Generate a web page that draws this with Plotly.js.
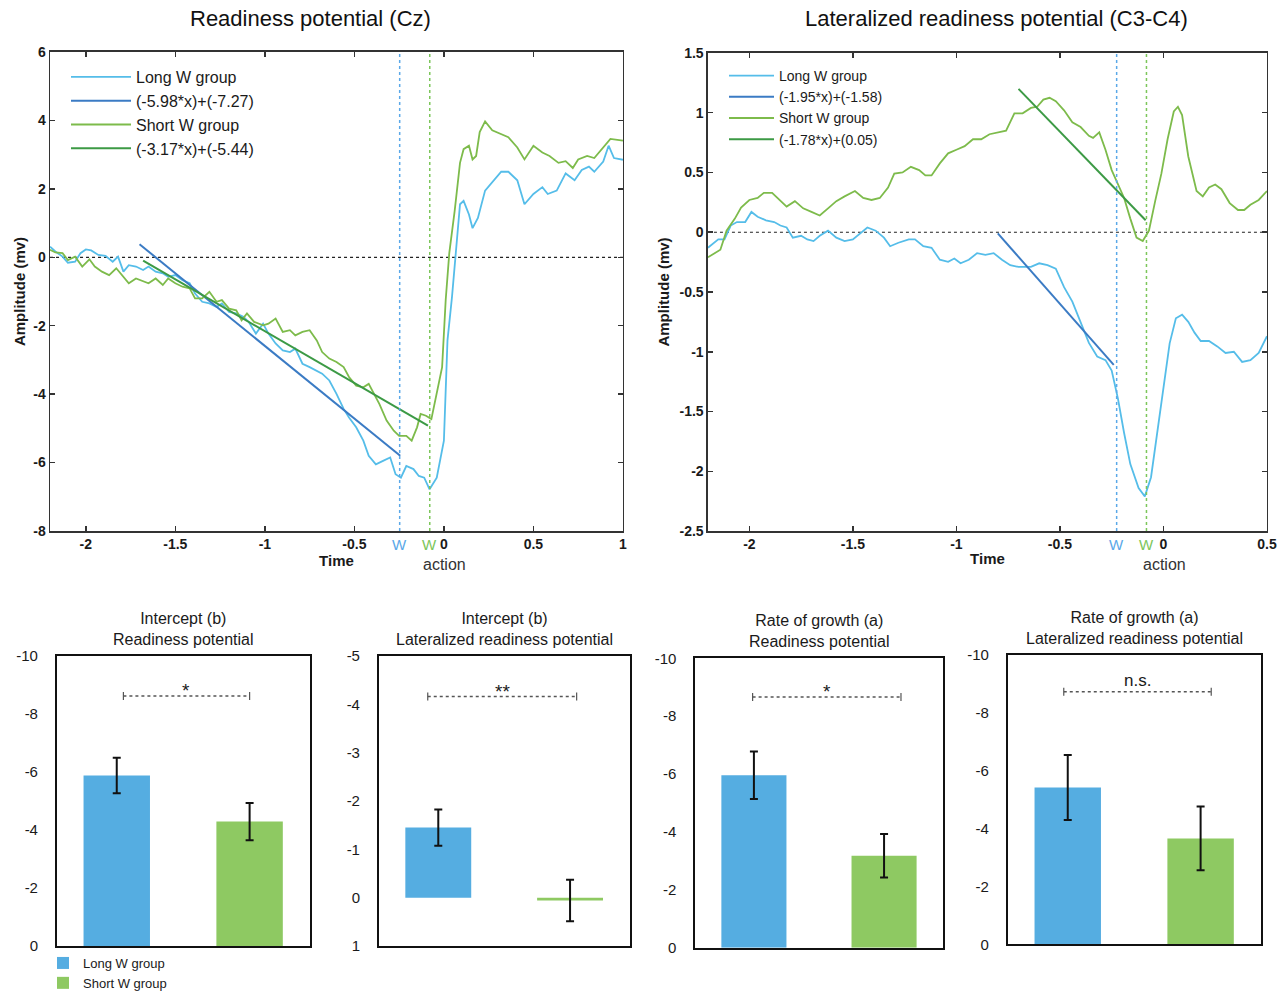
<!DOCTYPE html>
<html><head><meta charset="utf-8">
<script src="https://cdn.plot.ly/plotly-3.0.1.min.js"></script>
<style>html,body{margin:0;padding:0;background:#fff;overflow:hidden}#chart{width:1286px;height:992px}</style>
</head><body><div id="chart"></div>
<script>
// ---------- Readiness potential (Cz) ----------
const rpTimeLong = [-2.2,-2.17,-2.13,-2.1,-2.06,-2.03,-2.0,-1.97,-1.93,-1.89,-1.85,-1.82,-1.79,-1.76,-1.72,-1.68,-1.65,-1.61,-1.57,-1.54,-1.5,-1.46,-1.42,-1.39,-1.35,-1.31,-1.27,-1.24,-1.2,-1.16,-1.12,-1.09,-1.05,-1.01,-0.98,-0.94,-0.9,-0.86,-0.83,-0.79,-0.75,-0.71,-0.68,-0.64,-0.6,-0.56,-0.53,-0.49,-0.45,-0.42,-0.38,-0.34,-0.3,-0.27,-0.24,-0.21,-0.17,-0.14,-0.11,-0.08,-0.04,0.0,0.02,0.045,0.07,0.09,0.11,0.14,0.16,0.19,0.23,0.27,0.32,0.36,0.41,0.45,0.5,0.55,0.58,0.63,0.68,0.73,0.77,0.81,0.84,0.89,0.92,0.95,1.0];
const rpLong = [0.31,0.17,0.02,-0.16,-0.13,0.12,0.23,0.2,0.07,0.04,-0.13,0.02,-0.42,-0.23,-0.27,-0.37,-0.27,-0.42,-0.47,-0.57,-0.52,-0.67,-0.76,-1.06,-1.3,-1.35,-1.45,-1.35,-1.6,-1.64,-1.74,-1.89,-2.23,-1.94,-2.23,-2.52,-2.72,-2.77,-2.67,-3.11,-3.21,-3.31,-3.4,-3.6,-3.99,-4.43,-4.68,-4.97,-5.36,-5.8,-6.05,-5.95,-5.85,-6.34,-6.44,-6.1,-6.19,-6.39,-6.44,-6.78,-6.44,-5.36,-2.43,-1.17,0.34,1.55,1.65,1.25,0.85,1.15,1.95,2.2,2.5,2.5,2.25,1.55,1.85,2.05,1.85,1.95,2.45,2.25,2.55,2.65,2.5,2.8,3.26,2.9,2.85];
const rpTimeShort = [-2.2,-2.17,-2.13,-2.1,-2.06,-2.02,-1.98,-1.95,-1.91,-1.87,-1.83,-1.8,-1.76,-1.72,-1.68,-1.65,-1.61,-1.57,-1.54,-1.5,-1.46,-1.42,-1.39,-1.35,-1.31,-1.27,-1.24,-1.2,-1.16,-1.13,-1.1,-1.06,-1.01,-0.98,-0.94,-0.9,-0.86,-0.83,-0.79,-0.75,-0.71,-0.68,-0.64,-0.6,-0.56,-0.53,-0.49,-0.45,-0.42,-0.4,-0.36,-0.32,-0.28,-0.25,-0.21,-0.18,-0.15,-0.13,-0.1,-0.07,-0.04,-0.01,0.01,0.03,0.06,0.09,0.11,0.14,0.16,0.18,0.2,0.23,0.27,0.32,0.36,0.41,0.45,0.5,0.55,0.59,0.64,0.68,0.72,0.75,0.8,0.84,0.89,0.93,1.0];
const rpShort = [0.22,0.14,0.12,-0.08,0.02,-0.27,-0.06,-0.27,-0.42,-0.52,-0.32,-0.52,-0.76,-0.62,-0.71,-0.76,-0.62,-0.81,-0.62,-0.76,-0.86,-0.91,-1.2,-1.2,-1.01,-1.3,-1.25,-1.5,-1.55,-1.84,-1.64,-1.89,-1.99,-1.94,-1.79,-2.18,-2.13,-2.28,-2.18,-2.13,-2.43,-2.77,-2.96,-3.06,-3.21,-3.5,-3.75,-3.8,-3.7,-3.89,-4.29,-4.77,-5.07,-5.22,-5.22,-5.36,-4.97,-4.58,-4.63,-4.73,-3.99,-3.21,-1.25,0.12,1.35,2.76,3.16,3.26,2.86,2.96,3.66,3.97,3.71,3.61,3.51,3.21,2.86,3.26,3.06,2.96,2.76,2.81,2.61,2.86,2.96,2.9,3.21,3.46,3.41];
const rpFitLongX = [-1.70, -0.244];
const rpFitLongY = [0.38, -5.80];
const rpFitShortX = [-1.68, -0.089];
const rpFitShortY = [-0.10, -4.92];
const rpNames = ['Long W group', '(-5.98*x)+(-7.27)', 'Short W group', '(-3.17*x)+(-5.44)'];
const rpWTimes = [-0.247, -0.079];

// ---------- Lateralized readiness potential (C3-C4) ----------
const lrpTimeLong = [-2.2,-2.18,-2.15,-2.12,-2.09,-2.06,-2.02,-1.99,-1.96,-1.92,-1.88,-1.85,-1.82,-1.79,-1.75,-1.72,-1.69,-1.66,-1.62,-1.58,-1.54,-1.5,-1.46,-1.43,-1.39,-1.35,-1.32,-1.28,-1.23,-1.2,-1.16,-1.12,-1.08,-1.04,-1.01,-0.98,-0.94,-0.9,-0.86,-0.82,-0.78,-0.74,-0.7,-0.64,-0.6,-0.56,-0.52,-0.48,-0.44,-0.4,-0.36,-0.32,-0.28,-0.25,-0.22,-0.19,-0.16,-0.12,-0.09,-0.06,-0.03,0.0,0.03,0.06,0.09,0.12,0.15,0.18,0.22,0.26,0.3,0.34,0.38,0.42,0.46,0.5];
const lrpLong = [-0.13,-0.10,-0.06,-0.06,0.056,0.085,0.085,0.17,0.13,0.10,0.085,0.056,0.04,-0.045,-0.03,-0.06,-0.074,-0.03,0.013,-0.045,-0.074,-0.06,0.0,0.04,0.013,-0.045,-0.117,-0.088,-0.06,-0.06,-0.117,-0.13,-0.23,-0.247,-0.22,-0.26,-0.23,-0.175,-0.19,-0.175,-0.23,-0.276,-0.29,-0.29,-0.26,-0.276,-0.305,-0.46,-0.58,-0.75,-0.926,-1.04,-1.07,-1.157,-1.39,-1.68,-1.94,-2.14,-2.21,-2.05,-1.68,-1.27,-0.93,-0.72,-0.69,-0.75,-0.84,-0.91,-0.91,-0.955,-1.01,-1.0,-1.085,-1.07,-1.01,-0.87];
const lrpTimeShort = [-2.2,-2.17,-2.14,-2.11,-2.07,-2.04,-2.0,-1.96,-1.93,-1.89,-1.85,-1.82,-1.78,-1.74,-1.7,-1.66,-1.62,-1.58,-1.54,-1.49,-1.45,-1.41,-1.37,-1.33,-1.3,-1.26,-1.22,-1.18,-1.15,-1.12,-1.08,-1.04,-1.0,-0.96,-0.92,-0.88,-0.84,-0.8,-0.76,-0.72,-0.68,-0.64,-0.61,-0.58,-0.55,-0.52,-0.48,-0.44,-0.4,-0.36,-0.34,-0.31,-0.28,-0.25,-0.22,-0.19,-0.16,-0.13,-0.1,-0.07,-0.04,-0.01,0.02,0.05,0.07,0.09,0.12,0.16,0.19,0.22,0.25,0.28,0.32,0.36,0.39,0.42,0.46,0.5];
const lrpShort = [-0.21,-0.175,-0.146,0.013,0.114,0.206,0.27,0.287,0.33,0.33,0.26,0.215,0.26,0.2,0.17,0.14,0.2,0.26,0.3,0.345,0.287,0.27,0.287,0.374,0.49,0.5,0.547,0.52,0.475,0.475,0.576,0.66,0.69,0.72,0.778,0.778,0.82,0.836,0.85,0.995,0.995,1.04,1.05,1.11,1.125,1.096,1.02,0.92,0.88,0.807,0.79,0.836,0.69,0.52,0.40,0.287,0.114,-0.045,-0.074,0.013,0.26,0.49,0.778,1.01,1.05,0.98,0.634,0.345,0.3,0.374,0.4,0.36,0.244,0.186,0.186,0.23,0.27,0.345];
const lrpFitLongX = [-0.80, -0.24];
const lrpFitLongY = [-0.01, -1.11];
const lrpFitShortX = [-0.70, -0.086];
const lrpFitShortY = [1.20, 0.10];
const lrpNames = ['Long W group', '(-1.95*x)+(-1.58)', 'Short W group', '(-1.78*x)+(0.05)'];
const lrpWTimes = [-0.226, -0.082];

const rpTickVals = [-8, -6, -4, -2, 0, 2, 4, 6];
const rpTickText = ['-8', '-6', '-4', '-2', '0', '2', '4', '6'];
const rpXTickVals = [-2, -1.5, -1, -0.5, 0, 0.5, 1];
const rpXTickText = ['-2', '-1.5', '-1', '-0.5', '0', '0.5', '1'];
const lrpTickVals = [-2.5, -2, -1.5, -1, -0.5, 0, 0.5, 1, 1.5];
const lrpTickText = ['-2.5', '-2', '-1.5', '-1', '-0.5', '0', '0.5', '1', '1.5'];
const lrpXTickVals = [-2, -1.5, -1, -0.5, 0, 0.5];
const lrpXTickText = ['-2', '-1.5', '-1', '-0.5', '0', '0.5'];

// ---------- Bar panels ----------
const groups = ['Long W group', 'Short W group'];
const barTitles = ['Intercept (b)<br>Readiness potential', 'Intercept (b)<br>Lateralized readiness potential', 'Rate of growth (a)<br>Readiness potential', 'Rate of growth (a)<br>Lateralized readiness potential'];
const barLong = [-5.88, -1.45, -5.96, -5.42];
const barLongErr = [0.61, 0.375, 0.82, 1.12];
const barShort = [-4.29, 0.06, -3.18, -3.66];
const barShortErr = [0.64, 0.43, 0.75, 1.1];
const sigLevel = [-8.62, -4.16, -8.66, -8.73];
const sigLabel = ['*', '**', '*', 'n.s.'];
const sigFrom = [0.05, -0.08, -0.01, -0.03];
const sigTo = [1.0, 1.05, 1.13, 1.08];
const barRange = [[0, -10], [1, -5], [0, -10], [0, -10]];
const barTickVals = [[0, -2, -4, -6, -8, -10], [1, 0, -1, -2, -3, -4, -5], [0, -2, -4, -6, -8, -10], [0, -2, -4, -6, -8, -10]];
const barTickText = [['0', '-2', '-4', '-6', '-8', '-10'], ['1', '0', '-1', '-2', '-3', '-4', '-5'], ['0', '-2', '-4', '-6', '-8', '-10'], ['0', '-2', '-4', '-6', '-8', '-10']];

// ---------- styling ----------
const FONT = 'Liberation Sans, Arial, Helvetica, sans-serif';
const cLong = '#55bde9', cLongFit = '#3b7bc4', cShort = '#7dbb4b', cShortFit = '#3c9a45';
const cBarLong = '#55ade1', cBarShort = '#8ec962';
const cWLong = '#5aa8e8', cWShort = '#7cc65a';

const traces = [];
function lineTraces(xa, ya, legendId, names, tL, vL, fLx, fLy, tS, vS, fSx, fSy) {
  traces.push({x: tL, y: vL, type: 'scatter', mode: 'lines', name: names[0], xaxis: xa, yaxis: ya, legend: legendId, line: {color: cLong, width: 1.8}, hoverinfo: 'skip'});
  traces.push({x: fLx, y: fLy, type: 'scatter', mode: 'lines', name: names[1], xaxis: xa, yaxis: ya, legend: legendId, line: {color: cLongFit, width: 2}, hoverinfo: 'skip'});
  traces.push({x: tS, y: vS, type: 'scatter', mode: 'lines', name: names[2], xaxis: xa, yaxis: ya, legend: legendId, line: {color: cShort, width: 1.8}, hoverinfo: 'skip'});
  traces.push({x: fSx, y: fSy, type: 'scatter', mode: 'lines', name: names[3], xaxis: xa, yaxis: ya, legend: legendId, line: {color: cShortFit, width: 2}, hoverinfo: 'skip'});
}
lineTraces('x', 'y', 'legend', rpNames, rpTimeLong, rpLong, rpFitLongX, rpFitLongY, rpTimeShort, rpShort, rpFitShortX, rpFitShortY);
lineTraces('x2', 'y2', 'legend2', lrpNames, lrpTimeLong, lrpLong, lrpFitLongX, lrpFitLongY, lrpTimeShort, lrpShort, lrpFitShortX, lrpFitShortY);

for (let i = 0; i < 4; i++) {
  const xa = 'x' + (i + 3), ya = 'y' + (i + 3);
  traces.push({x: [0], y: [barLong[i]], type: 'bar', width: 0.5, name: groups[0], xaxis: xa, yaxis: ya, legend: 'legend3', showlegend: i === 0,
    marker: {color: cBarLong}, error_y: {type: 'data', array: [barLongErr[i]], color: '#111', thickness: 2, width: 4}, hoverinfo: 'skip'});
  traces.push({x: [1], y: [barShort[i]], type: 'bar', width: 0.5, name: groups[1], xaxis: xa, yaxis: ya, legend: 'legend3', showlegend: i === 0,
    marker: {color: cBarShort}, error_y: {type: 'data', array: [barShortErr[i]], color: '#111', thickness: 2, width: 4}, hoverinfo: 'skip'});
}

const axTop = {
  showgrid: false, zeroline: false, showline: true, linecolor: '#333', linewidth: 1.5, mirror: 'ticks',
  ticks: 'inside', ticklen: 5, tickwidth: 1.5, tickcolor: '#333',
  tickfont: {family: FONT, size: 14, color: '#1a1a1a', weight: 'bold'}, tickmode: 'array'
};
const titleFont = {family: FONT, size: 15, color: '#1a1a1a', weight: 'bold'};

const layout = {
  width: 1286, height: 992, margin: {l: 0, r: 0, t: 0, b: 0, autoexpand: false},
  paper_bgcolor: '#fff', plot_bgcolor: '#fff',
  font: {family: FONT, color: '#1a1a1a'},
  barmode: 'overlay',
  xaxis: Object.assign({}, axTop, {domain: [0.0389, 0.4844], anchor: 'y', range: [-2.2, 1], tickvals: rpXTickVals, ticktext: rpXTickText,
    title: {text: 'Time', font: titleFont, standoff: 2}}),
  yaxis: Object.assign({}, axTop, {domain: [0.4647, 0.9476], anchor: 'x', range: [-8, 6], tickvals: rpTickVals, ticktext: rpTickText,
    title: {text: 'Amplitude (mv)', font: titleFont, standoff: 4}}),
  xaxis2: Object.assign({}, axTop, {domain: [0.5505, 0.9852], anchor: 'y2', range: [-2.2, 0.5], tickvals: lrpXTickVals, ticktext: lrpXTickText,
    title: {text: 'Time', font: titleFont, standoff: 2}}),
  yaxis2: Object.assign({}, axTop, {domain: [0.4647, 0.9466], anchor: 'x2', range: [-2.5, 1.5], tickvals: lrpTickVals, ticktext: lrpTickText,
    title: {text: 'Amplitude (mv)', font: titleFont, standoff: 6}}),
  legend: {x: 66 / 1286, xanchor: 'left', y: 1 - 60 / 992, yanchor: 'top', bgcolor: 'rgba(0,0,0,0)', itemwidth: 60,
    font: {family: FONT, size: 16, color: '#1a1a1a'}},
  legend2: {x: 724 / 1286, xanchor: 'left', y: 1 - 60 / 992, yanchor: 'top', bgcolor: 'rgba(0,0,0,0)', itemwidth: 45,
    font: {family: FONT, size: 14, color: '#1a1a1a'}},
  legend3: {x: 43 / 1286, xanchor: 'left', y: 1 - 948 / 992, yanchor: 'top', bgcolor: 'rgba(0,0,0,0)',
    font: {family: FONT, size: 13, color: '#1a1a1a'}},
  shapes: [], annotations: []
};

const barDomX = [[0.0443, 0.2411], [0.2947, 0.4899], [0.5407, 0.7335], [0.7838, 0.9806]];
const barDomY = [[0.0464, 0.3387], [0.0464, 0.3387], [0.0446, 0.3364], [0.0481, 0.3397]];
for (let i = 0; i < 4; i++) {
  const n = i + 3;
  layout['xaxis' + n] = {domain: barDomX[i], anchor: 'y' + n, range: [-0.45, 1.455], showticklabels: false, ticks: '',
    showgrid: false, zeroline: false, showline: true, mirror: true, linecolor: '#111', linewidth: 2};
  layout['yaxis' + n] = {domain: barDomY[i], anchor: 'x' + n, range: barRange[i], tickmode: 'array', tickvals: barTickVals[i], ticktext: barTickText[i],
    ticks: '', ticklabelstandoff: 14, showgrid: false, zeroline: false, showline: true, mirror: true, linecolor: '#111', linewidth: 2,
    tickfont: {family: FONT, size: 15, color: '#1a1a1a'}};
  // significance bracket
  const xr = 'x' + n, yr = 'y' + n;
  layout.shapes.push({type: 'line', xref: xr, yref: yr, x0: sigFrom[i], x1: sigTo[i], y0: sigLevel[i], y1: sigLevel[i], line: {color: '#555', width: 1.5, dash: 'dot'}});
  [sigFrom[i], sigTo[i]].forEach(function (xv) {
    layout.shapes.push({type: 'line', xref: xr, yref: yr, ysizemode: 'pixel', yanchor: sigLevel[i], x0: xv, x1: xv, y0: -4, y1: 4, line: {color: '#555', width: 1.2}});
  });
  layout.annotations.push({xref: xr, yref: yr, x: (sigFrom[i] + sigTo[i]) / 2, y: sigLevel[i], xanchor: 'center', text: sigLabel[i], showarrow: false,
    yanchor: 'bottom', yshift: sigLabel[i] === 'n.s.' ? 0 : -7, font: {family: FONT, size: sigLabel[i] === 'n.s.' ? 17 : 19, color: '#1a1a1a'}});
  layout.annotations.push({xref: 'paper', yref: 'paper', x: (barDomX[i][0] + barDomX[i][1]) / 2, y: barDomY[i][1], xanchor: 'center', yanchor: 'bottom', yshift: 6,
    align: 'center', text: barTitles[i], showarrow: false, font: {family: FONT, size: 16, color: '#1a1a1a'}});
}

// top panels: zero lines, W markers, titles
[['x', 'y', rpWTimes], ['x2', 'y2', lrpWTimes]].forEach(function (p) {
  layout.shapes.push({type: 'line', xref: p[0] + ' domain', yref: p[1], x0: 0, x1: 1, y0: 0, y1: 0, line: {color: '#222', width: 1.2, dash: 'dot'}, layer: 'below'});
  layout.shapes.push({type: 'line', xref: p[0], yref: p[1] + ' domain', x0: p[2][0], x1: p[2][0], y0: 0, y1: 1, line: {color: cWLong, width: 1.5, dash: 'dot'}});
  layout.shapes.push({type: 'line', xref: p[0], yref: p[1] + ' domain', x0: p[2][1], x1: p[2][1], y0: 0, y1: 1, line: {color: cWShort, width: 1.5, dash: 'dot'}});
  layout.annotations.push({xref: p[0], yref: p[1] + ' domain', x: p[2][0], y: 0, xanchor: 'center', yanchor: 'top', yshift: -3, text: 'W', showarrow: false, font: {family: FONT, size: 15, color: cWLong}});
  layout.annotations.push({xref: p[0], yref: p[1] + ' domain', x: p[2][1], y: 0, xanchor: 'center', yanchor: 'top', yshift: -3, text: 'W', showarrow: false, font: {family: FONT, size: 15, color: cWShort}});
  layout.annotations.push({xref: p[0], yref: p[1] + ' domain', x: 0.005, y: 0, xanchor: 'center', yanchor: 'top', yshift: -23, text: 'action', showarrow: false, font: {family: FONT, size: 16, color: '#333'}});
});
layout.annotations.push({xref: 'paper', yref: 'paper', x: 310 / 1286, y: 1 - 18 / 992, xanchor: 'center', yanchor: 'middle', text: 'Readiness potential (Cz)', showarrow: false, font: {family: FONT, size: 22, color: '#111'}});
layout.annotations.push({xref: 'paper', yref: 'paper', x: 996 / 1286, y: 1 - 18 / 992, xanchor: 'center', yanchor: 'middle', text: 'Lateralized readiness potential (C3-C4)', showarrow: false, font: {family: FONT, size: 22, color: '#111'}});

Plotly.newPlot('chart', traces, layout, {displayModeBar: false, staticPlot: true});
</script></body></html>
